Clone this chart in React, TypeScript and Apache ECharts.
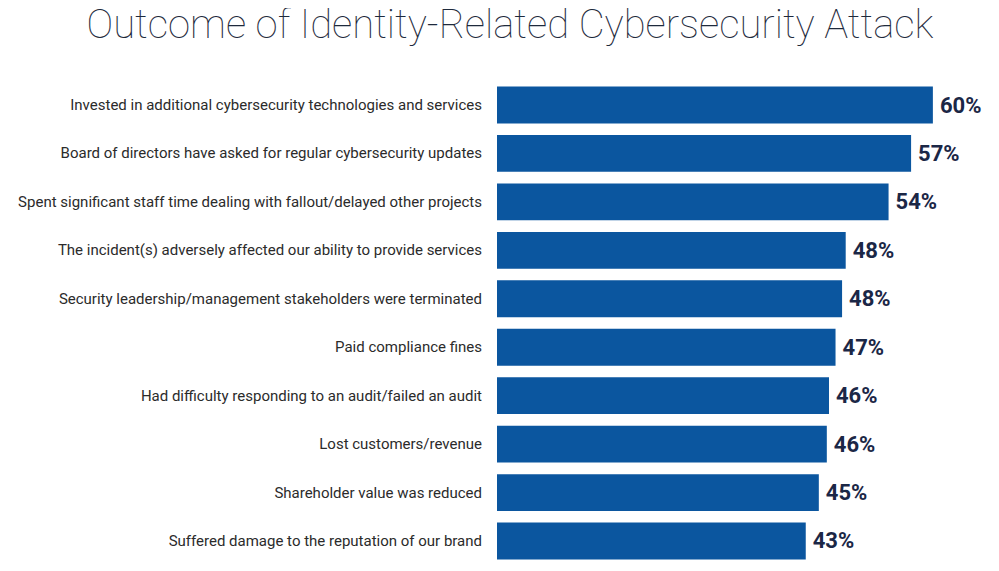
import React, { useEffect, useRef } from "react";
import * as echarts from "echarts";

const titleText = "Outcome of Identity-Related Cybersecurity Attack";
const categories = [
  "Invested in additional cybersecurity technologies and services",
  "Board of directors have asked for regular cybersecurity updates",
  "Spent significant staff time dealing with fallout/delayed other projects",
  "The incident(s) adversely affected our ability to provide services",
  "Security leadership/management stakeholders were terminated",
  "Paid compliance fines",
  "Had difficulty responding to an audit/failed an audit",
  "Lost customers/revenue",
  "Shareholder value was reduced",
  "Suffered damage to the reputation of our brand",
];
const values = [60, 57, 53.9, 48, 47.5, 46.6, 45.7, 45.4, 44.3, 42.5];
const valueLabels = ["60%", "57%", "54%", "48%", "48%", "47%", "46%", "46%", "45%", "43%"];

export default function App() {
  const ref = useRef<HTMLDivElement>(null);
  useEffect(() => {
    if (!ref.current) return;
    const chart = echarts.init(ref.current, undefined, { renderer: "svg" });
    chart.setOption({
      animation: false,
      backgroundColor: "#ffffff",
      title: {
        text: titleText,
        left: 505,
        textAlign: "center",
        top: 0,
        padding: [4, 5, 5, 5],
        textStyle: {
          fontFamily: "Roboto",
          fontWeight: 100,
          fontSize: 40,
          color: "#1e2a3c",
        },
      },
      grid: { left: 497, right: 8, top: 80.8, bottom: 5.8, containLabel: false },
      xAxis: {
        type: "value",
        min: 0,
        max: 68,
        show: false,
      },
      yAxis: {
        type: "category",
        data: categories,
        inverse: true,
        axisLine: { show: false },
        axisTick: { show: false },
        axisLabel: {
          fontFamily: "Roboto",
          fontSize: 15,
          color: "#2b2b2b",
          margin: 15,
        },
      },
      series: [
        {
          type: "bar",
          data: values,
          barCategoryGap: "24%",
          itemStyle: { color: "#0b569f" },
          label: {
            show: true,
            position: "right",
            distance: 7,
            fontFamily: "Roboto",
            fontWeight: "bold",
            fontSize: 22,
            color: "#1b2746",
            formatter: (p: any) => valueLabels[p.dataIndex],
          },
        },
      ],
    });
    return () => chart.dispose();
  }, []);
  return <div ref={ref} style={{ width: 999, height: 571, margin: -8 }} />;
}
